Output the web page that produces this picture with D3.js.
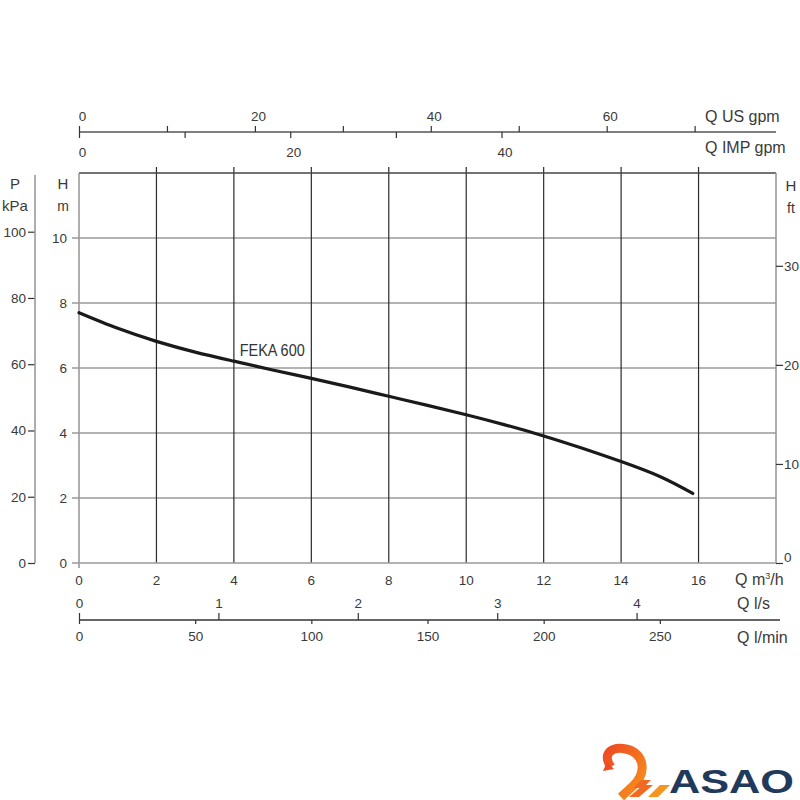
<!DOCTYPE html>
<html><head><meta charset="utf-8">
<script src="https://cdn.jsdelivr.net/npm/d3@7"></script>
<style>
body{margin:0;background:#fff;}
text{font-family:"Liberation Sans",Arial,sans-serif;fill:#3a3a3a;}
</style></head>
<body><svg id="c" width="800" height="800"></svg>
<script>
// ---- data ----
const flowM3h = [0, 1, 2, 3, 4, 5, 6, 7, 8, 9, 10, 11, 12, 13, 14, 15, 15.85];
const headM   = [7.70, 7.22, 6.82, 6.49, 6.21, 5.94, 5.68, 5.41, 5.13, 4.85, 4.56, 4.25, 3.91, 3.53, 3.12, 2.66, 2.14];
const curveName = "FEKA 600";
const xTicksM3h = [0, 2, 4, 6, 8, 10, 12, 14, 16];
const yTicksM = [0, 2, 4, 6, 8, 10];
const yTicksKPa = [0, 20, 40, 60, 80, 100];
const yTicksFt = [0, 10, 20, 30];
const usGpmTicks = [0, 10, 20, 30, 40, 50, 60, 70];
const usGpmLabels = [0, 20, 40, 60];
const impGpmTicks = [0, 10, 20, 30, 40];
const impGpmLabels = [0, 20, 40];
const lsTicks = [0, 1, 2, 3, 4];
const lminTicks = [0, 50, 100, 150, 200, 250];

const svg = d3.select("#c");
const L = 79, R = 776, T = 173, B = 563;
const x = d3.scaleLinear().domain([0, 18]).range([L, R]);
const y = d3.scaleLinear().domain([0, 12]).range([B, T]);
const yKPa = d3.scaleLinear().domain([0, 12 * 9.81]).range([B, T]);
const yFt = d3.scaleLinear().domain([0, 12 / 0.3048]).range([B, T]);
const xUS = d3.scaleLinear().domain([0, 18 / 0.22712]).range([L, R]);
const xIMP = d3.scaleLinear().domain([0, 18 / 0.27277]).range([L, R]);
const xLs = d3.scaleLinear().domain([0, 18 / 3.6]).range([L, R]);
const xLmin = d3.scaleLinear().domain([0, 18 * 1000 / 60]).range([L, R]);

const grey = "#9a9a9a", dark = "#2b2b2b", txt = "#3a3a3a";
const fmt = d3.format("d");
const TS = 13.5;

// horizontal gridlines (grey), extending left
svg.append("g").selectAll("line").data(yTicksM.filter(d => d > 0)).join("line")
  .attr("x1", 72).attr("x2", R).attr("y1", d => y(d)).attr("y2", d => y(d))
  .attr("stroke", grey).attr("stroke-width", 1.6);
// vertical gridlines (dark), extending above
svg.append("g").selectAll("line").data(xTicksM3h.filter(d => d > 0)).join("line")
  .attr("x1", d => x(d)).attr("x2", d => x(d)).attr("y1", 167).attr("y2", B)
  .attr("stroke", dark).attr("stroke-width", 1.2);
// frame
svg.append("line").attr("x1", L).attr("x2", R).attr("y1", T).attr("y2", T).attr("stroke", "#444").attr("stroke-width", 1.4);
svg.append("line").attr("x1", 72).attr("x2", R).attr("y1", B).attr("y2", B).attr("stroke", grey).attr("stroke-width", 1.6);
svg.append("line").attr("x1", L).attr("x2", L).attr("y1", T).attr("y2", B + 5).attr("stroke", grey).attr("stroke-width", 1.6);
svg.append("line").attr("x1", R).attr("x2", R).attr("y1", T).attr("y2", B).attr("stroke", grey).attr("stroke-width", 1.6);

// curve
const line = d3.line().x((d, i) => x(flowM3h[i])).y(d => y(d)).curve(d3.curveNatural);
svg.append("path").attr("d", line(headM)).attr("fill", "none")
  .attr("stroke", "#1a1a1a").attr("stroke-width", 3.2).attr("stroke-linecap", "round");
svg.append("text").attr("x", x(4.15)).attr("y", y(6.38)).attr("font-size", 17)
  .attr("transform", `translate(${x(4.15)},0) scale(0.85,1) translate(${-x(4.15)},0)`)
  .style("fill", "#333").text(curveName);

// H m labels (left)
svg.append("g").selectAll("text").data(yTicksM).join("text")
  .attr("x", 67).attr("y", d => y(d)).attr("dy", "0.35em").attr("text-anchor", "end")
  .attr("font-size", TS).text(d => d);
svg.append("text").attr("x", 63).attr("y", 189).attr("text-anchor", "middle").attr("font-size", 15).text("H");
svg.append("text").attr("x", 63).attr("y", 211).attr("text-anchor", "middle").attr("font-size", 14).text("m");

function styleAxis(g) {
  g.select(".domain").remove();
  g.selectAll(".tick line").attr("stroke", "#333").attr("stroke-width", 1.2);
  g.selectAll(".tick text").attr("font-size", TS).attr("font-family", "Liberation Sans").style("fill", txt);
}

// P kPa axis
const gP = svg.append("g").attr("transform", "translate(35,0)")
  .call(d3.axisLeft(yKPa).tickValues(yTicksKPa).tickSize(7).tickPadding(2).tickFormat(fmt));
styleAxis(gP);
gP.append("line").attr("x1", 0).attr("x2", 0).attr("y1", T + 2).attr("y2", B).attr("stroke", grey).attr("stroke-width", 1.6);
svg.append("text").attr("x", 15).attr("y", 189).attr("text-anchor", "middle").attr("font-size", 15).text("P");
svg.append("text").attr("x", 15).attr("y", 211).attr("text-anchor", "middle").attr("font-size", 15).text("kPa");

// H ft axis (right)
const gF = svg.append("g").attr("transform", `translate(${R},0)`)
  .call(d3.axisRight(yFt).tickValues(yTicksFt).tickSize(7).tickPadding(1).tickFormat(fmt));
styleAxis(gF);
gF.selectAll(".tick").filter(d => d === 0).select("text").attr("dy", "-0.1em");
svg.append("text").attr("x", 791).attr("y", 191).attr("text-anchor", "middle").attr("font-size", 15).text("H");
svg.append("text").attr("x", 791).attr("y", 213).attr("text-anchor", "middle").attr("font-size", 14).text("ft");

// m3/h labels
svg.append("g").selectAll("text").data(xTicksM3h).join("text")
  .attr("x", d => x(d)).attr("y", 585).attr("text-anchor", "middle").attr("font-size", TS).text(d => d);
const qm = svg.append("text").attr("x", 735).attr("y", 585).attr("font-size", 16);
qm.append("tspan").text("Q m");
qm.append("tspan").attr("font-size", 9).attr("dy", -6).text("3");
qm.append("tspan").attr("dy", 6).text("/h");

// l/s and l/min axis
const yQ = 620;
svg.append("line").attr("x1", L).attr("x2", 780).attr("y1", yQ).attr("y2", yQ).attr("stroke", "#333").attr("stroke-width", 1.3);
const gLs = svg.append("g").attr("transform", `translate(0,${yQ})`)
  .call(d3.axisTop(xLs).tickValues(lsTicks).tickSize(7).tickPadding(5).tickFormat(fmt));
styleAxis(gLs);
const gLm = svg.append("g").attr("transform", `translate(0,${yQ})`)
  .call(d3.axisBottom(xLmin).tickValues(lminTicks).tickSize(4).tickPadding(7).tickFormat(fmt));
styleAxis(gLm);
svg.append("text").attr("x", 737).attr("y", 609).attr("font-size", 16).text("Q l/s");
svg.append("text").attr("x", 737).attr("y", 643).attr("font-size", 16).text("Q l/min");

// US gpm / IMP gpm axis
const yG = 132;
svg.append("line").attr("x1", L).attr("x2", R).attr("y1", yG).attr("y2", yG).attr("stroke", "#555").attr("stroke-width", 1.3);
const gUS = svg.append("g").attr("transform", `translate(0,${yG})`)
  .call(d3.axisTop(xUS).tickValues(usGpmTicks).tickSize(6).tickPadding(5)
    .tickFormat(d => usGpmLabels.includes(d) ? fmt(d) : ""));
styleAxis(gUS);
const gIMP = svg.append("g").attr("transform", `translate(0,${yG})`)
  .call(d3.axisBottom(xIMP).tickValues(impGpmTicks).tickSize(6).tickPadding(9)
    .tickFormat(d => impGpmLabels.includes(d) ? fmt(d) : ""));
styleAxis(gIMP);
gUS.selectAll(".tick text").attr("dx", 3);
gIMP.selectAll(".tick text").attr("dx", 3);
svg.append("text").attr("x", 705).attr("y", 122).attr("font-size", 16).text("Q US gpm");
svg.append("text").attr("x", 705).attr("y", 153).attr("font-size", 16).text("Q IMP gpm");

// logo
const logo = svg.append("g");
const grad = svg.append("defs").append("linearGradient").attr("id", "og").attr("x1", "0").attr("x2", "1").attr("y1", "0").attr("y2", "1");
grad.append("stop").attr("offset", "0").attr("stop-color", "#ef4a23");
grad.append("stop").attr("offset", "1").attr("stop-color", "#f7941d");
logo.append("path").attr("d", "M611,767 C601,753 613,746 626,749 C645,753 647,773 633,786 L621,797")
  .attr("fill", "none").attr("stroke", "url(#og)").attr("stroke-width", 9).attr("stroke-linecap", "butt");
logo.append("path").attr("d", "M607,762 L603,771 L614,769 Z").attr("fill", "#ef4a23");
logo.append("path").attr("d", "M633,788 L641,780 L651,780 L643,788 Z M629,797 L643,785 L653,785 L639,797 Z").attr("fill", "#f26a21");
logo.append("path").attr("d", "M648,797 L660,785 L670,785 L658,797 Z").attr("fill", "#f7941d");
logo.append("text").attr("x", 669).attr("y", 793).attr("font-size", 34).attr("font-weight", "bold")
  .attr("font-family", "Inter, 'Liberation Sans', sans-serif").attr("textLength", 125)
  .attr("lengthAdjust", "spacingAndGlyphs")
  .style("fill", "#213a5c").text("ASAO");
</script></body></html>
